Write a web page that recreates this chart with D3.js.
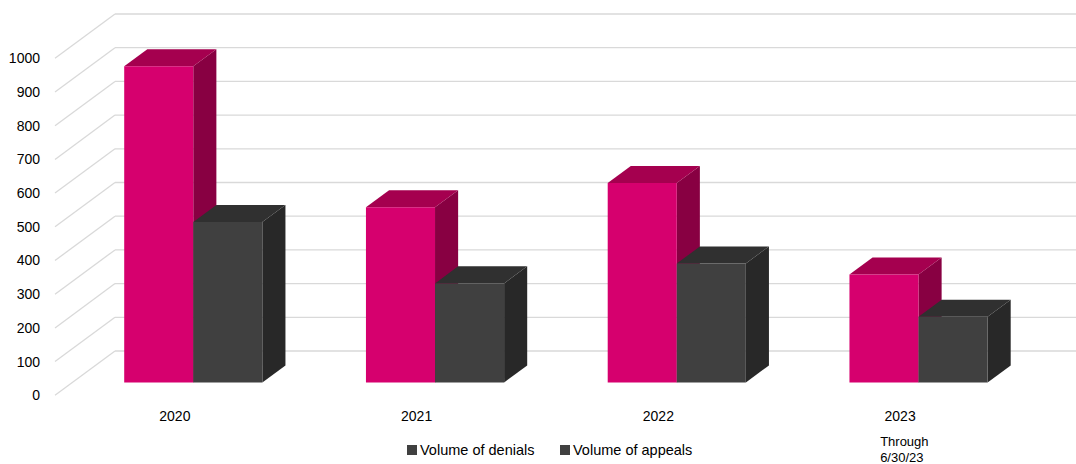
<!DOCTYPE html>
<html>
<head>
<meta charset="utf-8">
<script src="https://cdn.jsdelivr.net/npm/d3@7"></script>
<style>
  body { margin: 0; background: #fff; }
  svg { display: block; font-family: "Liberation Sans", Arial, sans-serif; }
  .grid line { stroke: #d9d9d9; stroke-width: 1.3; }
  .axis text { fill: #000; font-size: 14px; }
  .note { fill: #000; font-size: 13px; }
  .legend text { fill: #000; font-size: 14.5px; }
</style>
</head>
<body>
<div id="container"></div>
<script>
const categories = ["2020", "2021", "2022", "2023"];
const categoryNotes = ["", "", "", "Through|6/30/23"];
const seriesNames = ["Volume of denials", "Volume of appeals"];
const denials = [938, 520, 592, 320];
const appeals = [476, 294, 353, 195];
const yTicks = [0, 100, 200, 300, 400, 500, 600, 700, 800, 900, 1000];

const width = 1076;
const height = 464;

// front plane of the floor and how far the back wall sits behind it
const frontLeft = 55;
const frontRight = 1022;
const depthX = 60;
const depthY = -44.3;
// bars sit between these fractions of the depth
const barFront = 0.29;
const barBack = 0.675;

const faces = [
  { front: "#d6006e", top: "#a5004f", side: "#880042" },
  { front: "#404040", top: "#303030", side: "#282828" }
];

const svg = d3.select('#container').append('svg')
  .attr('width', width)
  .attr('height', height);

const xScale = d3.scaleBand()
  .domain(categories)
  .range([frontLeft, frontRight])
  .padding(0);

const seriesScale = d3.scaleBand()
  .domain(seriesNames)
  .range([0, xScale.bandwidth()])
  .paddingInner(0)
  .paddingOuter(0.75);

const yScale = d3.scaleLinear()
  .domain([0, 1000])
  .range([395.3, 58.3]);

const project = (x, v, t) => [x + depthX * t, yScale(v) + depthY * t];

// grid: slanted on the side wall, then flat across the back wall
const grid = svg.append('g').attr('class', 'grid');
yTicks.forEach(v => {
  const a = project(frontLeft, v, 0);
  const b = project(frontLeft, v, 1);
  grid.append('line')
    .attr('x1', a[0]).attr('y1', a[1])
    .attr('x2', b[0]).attr('y2', b[1]);
  grid.append('line')
    .attr('x1', b[0]).attr('y1', b[1])
    .attr('x2', width).attr('y2', b[1]);
});

const rows = categories.map((c, i) => ({ cat: c, values: [denials[i], appeals[i]] }));

const poly = pts => pts.map(p => p.join(',')).join(' ');

rows.forEach(row => {
  row.values.forEach((v, s) => {
    const x0 = xScale(row.cat) + seriesScale(seriesNames[s]);
    const x1 = x0 + seriesScale.bandwidth();
    const g = svg.append('g').attr('class', 'bar');
    g.append('polygon')
      .attr('fill', faces[s].side)
      .attr('points', poly([project(x1, 0, barFront), project(x1, 0, barBack),
                            project(x1, v, barBack), project(x1, v, barFront)]));
    g.append('polygon')
      .attr('fill', faces[s].top)
      .attr('points', poly([project(x0, v, barFront), project(x1, v, barFront),
                            project(x1, v, barBack), project(x0, v, barBack)]));
    g.append('polygon')
      .attr('fill', faces[s].front)
      .attr('points', poly([project(x0, 0, barFront), project(x1, 0, barFront),
                            project(x1, v, barFront), project(x0, v, barFront)]));
  });
});

// value axis on the front edge of the side wall
svg.append('g')
  .attr('class', 'axis')
  .attr('transform', 'translate(40, 0)')
  .call(d3.axisLeft(yScale).tickValues(yTicks).tickFormat(d3.format('d')).tickSize(0).tickPadding(0))
  .call(g => g.select('.domain').remove());

// category axis
svg.append('g')
  .attr('class', 'axis')
  .attr('transform', 'translate(-1, 411)')
  .call(d3.axisBottom(xScale).tickSize(0).tickPadding(0))
  .call(g => g.select('.domain').remove());

categoryNotes.forEach((note, i) => {
  if (!note) return;
  const nx = xScale(categories[i]) + xScale.bandwidth() / 2 - 21;
  const t = svg.append('text')
    .attr('class', 'note')
    .attr('x', nx)
    .attr('y', 446);
  note.split('|').forEach((line, k) => {
    t.append('tspan')
      .attr('x', nx)
      .attr('dy', k === 0 ? 0 : 16)
      .text(line);
  });
});

// legend
const legendX = [407, 560];
const legend = svg.append('g').attr('class', 'legend');
seriesNames.forEach((name, i) => {
  legend.append('rect')
    .attr('x', legendX[i])
    .attr('y', 445)
    .attr('width', 10)
    .attr('height', 10)
    .attr('fill', '#404040');
  legend.append('text')
    .attr('x', legendX[i] + 13)
    .attr('y', 455)
    .text(name);
});
</script>
</body>
</html>
